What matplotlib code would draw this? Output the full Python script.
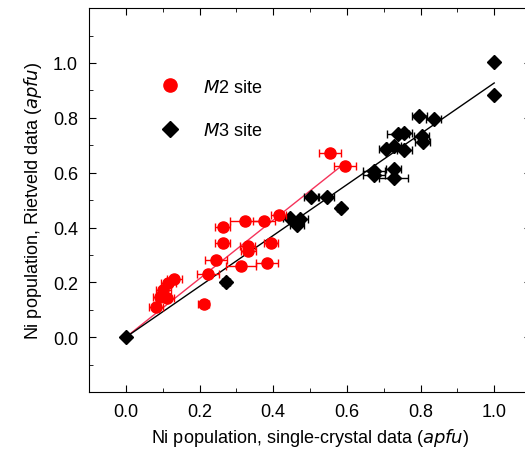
import matplotlib
matplotlib.use("Agg")
import matplotlib.pyplot as plt
from matplotlib.ticker import MultipleLocator
from matplotlib.lines import Line2D

plt.rcParams['font.family'] = ['Liberation Sans', 'DejaVu Sans']

# M2 site (red circles)
m2_x = [0.082, 0.212, 0.093, 0.111, 0.102, 0.115, 0.132, 0.224, 0.245, 0.263,
        0.263, 0.313, 0.324, 0.331, 0.333, 0.374, 0.394, 0.383, 0.415, 0.554, 0.594]
m2_y = [0.111, 0.121, 0.148, 0.142, 0.172, 0.197, 0.212, 0.231, 0.282, 0.343,
        0.402, 0.261, 0.422, 0.331, 0.313, 0.422, 0.343, 0.272, 0.445, 0.673, 0.624]
m2_xerr = [0.02, 0.015, 0.02, 0.02, 0.02, 0.02, 0.02, 0.03, 0.03, 0.02,
           0.02, 0.04, 0.04, 0.02, 0.02, 0.03, 0.02, 0.03, 0.02, 0.03, 0.03]

# M3 site (black diamonds)
m3_x = [0.0, 0.272, 0.447, 0.465, 0.474, 0.503, 0.545, 0.583, 0.674, 0.674,
        0.727, 0.727, 0.706, 0.728, 0.756, 0.738, 0.756, 0.797, 0.836, 0.803,
        0.806, 1.0, 1.0]
m3_y = [0.0, 0.203, 0.435, 0.41, 0.431, 0.51, 0.51, 0.471, 0.606, 0.59,
        0.614, 0.581, 0.685, 0.697, 0.682, 0.74, 0.744, 0.805, 0.795, 0.734,
        0.712, 1.005, 0.883]
m3_xerr = [0.0, 0.01, 0.02, 0.02, 0.02, 0.02, 0.02, 0.01, 0.03, 0.03,
           0.02, 0.04, 0.02, 0.02, 0.02, 0.03, 0.02, 0.02, 0.02, 0.02,
           0.02, 0.0, 0.0]

# Fit lines
m2_fit_x = [0.0, 0.579]
m2_fit_y = [0.0, 0.618]
m3_fit_x = [0.0, 1.0]
m3_fit_y = [0.0, 0.927]

fig = plt.figure(figsize=(5.25, 4.56), dpi=100)
ax = fig.add_axes([0.1695, 0.138, 0.842, 0.842])

ax.plot(m2_fit_x, m2_fit_y, color='#f5335a', lw=1.0, zorder=2)
ax.plot(m3_fit_x, m3_fit_y, color='black', lw=1.0, zorder=2)

ax.errorbar(m2_x, m2_y, xerr=m2_xerr, fmt='o', color='#ff0000', ecolor='#ff0000',
            markersize=8, elinewidth=1.0, capsize=3, capthick=1.0, zorder=4)
ax.errorbar(m3_x, m3_y, xerr=m3_xerr, fmt='D', color='black', ecolor='black',
            markersize=7.5, elinewidth=1.0, capsize=3, capthick=1.0, zorder=3)

ax.set_xlim(-0.1, 1.1)
ax.set_ylim(-0.2, 1.2)
ax.set_xticks([0.0, 0.2, 0.4, 0.6, 0.8, 1.0])
ax.set_yticks([0.0, 0.2, 0.4, 0.6, 0.8, 1.0])
ax.xaxis.set_minor_locator(MultipleLocator(0.1))
ax.yaxis.set_minor_locator(MultipleLocator(0.1))
ax.set_xticklabels(['0.0', '0.2', '0.4', '0.6', '0.8', '1.0'])
ax.set_yticklabels(['0.0', '0.2', '0.4', '0.6', '0.8', '1.0'])
ax.tick_params(which='both', direction='in', top=True, right=True, labelsize=13, pad=8)
ax.tick_params(which='major', length=5)
ax.tick_params(which='minor', length=3)

ax.set_xlabel('Ni population, single-crystal data ($\\it{apfu}$)', fontsize=13, labelpad=4)
ax.set_ylabel('Ni population, Rietveld data ($\\it{apfu}$)', fontsize=13, labelpad=6)

handles = [
    Line2D([], [], ls='none', marker='o', color='#ff0000', markersize=9.5),
    Line2D([], [], ls='none', marker='D', color='black', markersize=8.5),
]
labels = ['$\\it{M}$2 site', '$\\it{M}$3 site']
ax.legend(handles, labels, loc='upper left', bbox_to_anchor=(0.163, 0.816),
          frameon=False, fontsize=13, handlelength=1.0, handletextpad=1.3,
          labelspacing=1.45, borderpad=0, borderaxespad=0)

fig.savefig('out.png', dpi=100)
